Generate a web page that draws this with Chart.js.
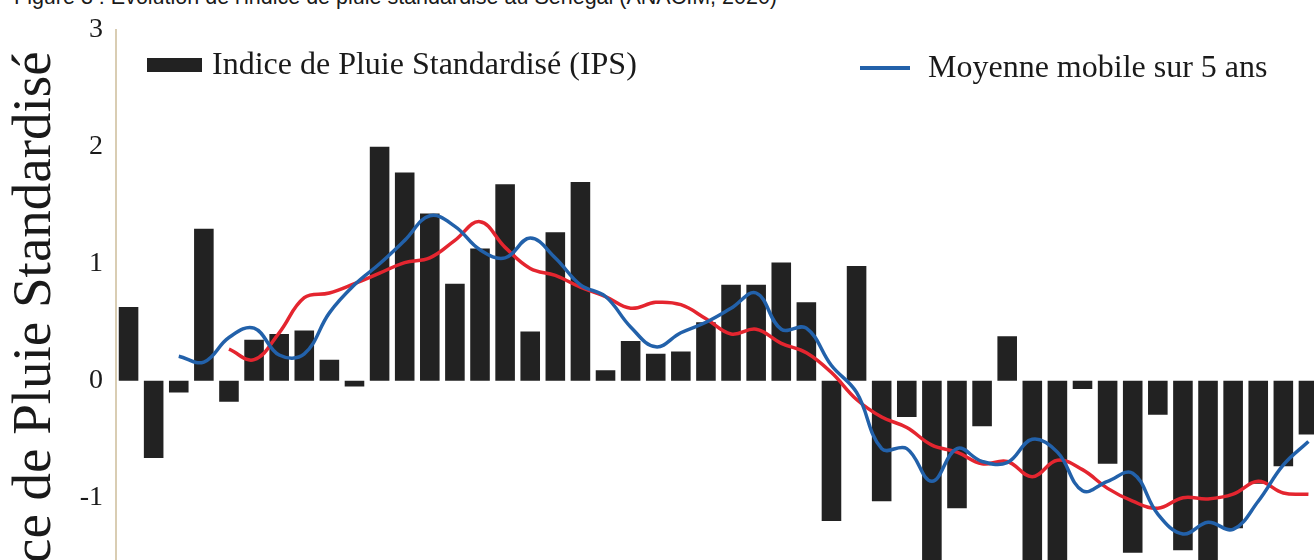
<!DOCTYPE html>
<html>
<head>
<meta charset="utf-8">
<script src="https://cdn.jsdelivr.net/npm/chart.js@4/dist/chart.umd.min.js"></script>
<style>
  html, body { margin: 0; padding: 0; background: #fff; overflow: hidden; width: 1314px; height: 560px; }
  #caption { position: absolute; left: 14px; top: -14px; font: 21.5px "Liberation Sans", Arial, sans-serif; line-height: 22px; color: #1a1a1a; white-space: nowrap; }
  #wrap { position: absolute; left: 0; top: 0; width: 1330px; height: 703px; }
</style>
</head>
<body>
<div id="caption">Figure 3 : Évolution de l'indice de pluie standardisé au Sénégal (ANACIM, 2020)</div>
<div id="wrap"><canvas id="c" width="1330" height="703"></canvas></div>
<script>
// Years of the series (one bar per year)
const categories = [
  "1", "2", "3", "4", "5", "6", "7", "8", "9", "10",
  "11", "12", "13", "14", "15", "16", "17", "18", "19", "20",
  "21", "22", "23", "24", "25", "26", "27", "28", "29", "30",
  "31", "32", "33", "34", "35", "36", "37", "38", "39", "40",
  "41", "42", "43", "44", "45", "46", "47", "48"
];

// Indice de Pluie Standardisé, one value per year
const ipsValues = [
  0.63, -0.66, -0.10, 1.30, -0.18, 0.35, 0.40, 0.43, 0.18, -0.05,
  2.00, 1.78, 1.43, 0.83, 1.13, 1.68, 0.42, 1.27, 1.70, 0.09,
  0.34, 0.23, 0.25, 0.50, 0.82, 0.82, 1.01, 0.67, -1.20, 0.98,
  -1.03, -0.31, -1.65, -1.09, -0.39, 0.38, -1.62, -1.70, -0.07, -0.71,
  -1.47, -0.29, -1.45, -1.60, -1.26, -0.88, -0.73, -0.46
];

// Moyenne mobile sur 5 ans (blue curve)
const movingAvg5 = [
  null, null, 0.21, 0.16, 0.37, 0.45, 0.22, 0.23, 0.58, 0.82,
  1.00, 1.20, 1.41, 1.32, 1.12, 1.05, 1.22, 1.05, 0.82, 0.72,
  0.46, 0.29, 0.41, 0.50, 0.62, 0.75, 0.44, 0.45, 0.13, -0.10,
  -0.58, -0.58, -0.86, -0.58, -0.69, -0.70, -0.50, -0.61, -0.94, -0.86,
  -0.79, -1.14, -1.31, -1.21, -1.27, -1.03, -0.72, -0.52
];

// Longer smoothing (red curve)
const movingAvgLong = [
  null, null, null, null, 0.27, 0.18, 0.41, 0.71, 0.75, 0.83,
  0.92, 1.01, 1.05, 1.20, 1.36, 1.14, 0.96, 0.90, 0.80, 0.72,
  0.62, 0.67, 0.65, 0.53, 0.40, 0.44, 0.32, 0.24, 0.07, -0.16,
  -0.31, -0.40, -0.55, -0.61, -0.71, -0.69, -0.82, -0.68, -0.76, -0.92,
  -1.03, -1.09, -1.00, -1.01, -0.97, -0.86, -0.96, -0.97
];

// Labels shown on the vertical axis
const yTickLabels = [3, 2, 1, 0, -1];

const serif = '"Liberation Serif", "Times New Roman", serif';
const textColor = '#1a1a1a';

// Legend drawn inside the plotting area, one entry per listed dataset
const insideLegend = {
  id: 'insideLegend',
  afterDatasetsDraw(chart, args, opts) {
    const ctx = chart.ctx;
    ctx.save();
    ctx.font = opts.font;
    ctx.textBaseline = 'middle';
    ctx.textAlign = 'left';
    opts.items.forEach(item => {
      const ds = chart.data.datasets[item.dataset];
      if (ds.type === 'line') {
        ctx.strokeStyle = ds.borderColor;
        ctx.lineWidth = 4;
        ctx.beginPath();
        ctx.moveTo(item.x, item.y);
        ctx.lineTo(item.x + item.swatch, item.y);
        ctx.stroke();
      } else {
        ctx.fillStyle = ds.backgroundColor;
        ctx.fillRect(item.x, item.y - 7, item.swatch, 14);
      }
      ctx.fillStyle = opts.color;
      ctx.fillText(ds.label, item.x + item.swatch + item.gap, item.y + 1);
    });
    ctx.restore();
  }
};

new Chart(document.getElementById('c'), {
  type: 'bar',
  data: {
    labels: categories,
    datasets: [
      {
        type: 'line',
        label: 'Moyenne mobile sur 5 ans',
        data: movingAvg5,
        borderColor: '#2261aa',
        borderWidth: 3.5,
        pointRadius: 0,
        tension: 0.4,
        fill: false,
        order: 0
      },
      {
        type: 'line',
        label: 'Moyenne mobile longue',
        data: movingAvgLong,
        borderColor: '#e4252f',
        borderWidth: 3.5,
        pointRadius: 0,
        tension: 0.4,
        fill: false,
        order: 1
      },
      {
        type: 'bar',
        label: 'Indice de Pluie Standardisé (IPS)',
        data: ipsValues,
        backgroundColor: '#222222',
        borderWidth: 0,
        barPercentage: 0.78,
        categoryPercentage: 1.0,
        order: 2
      }
    ]
  },
  options: {
    responsive: false,
    animation: false,
    layout: { padding: { top: 26, right: 9, bottom: 13, left: 0 } },
    plugins: {
      legend: { display: false },
      tooltip: { enabled: false },
      insideLegend: {
        font: '32px ' + serif,
        color: textColor,
        items: [
          { dataset: 2, x: 147, y: 65, swatch: 55, gap: 10 },
          { dataset: 0, x: 860, y: 68, swatch: 50, gap: 18 }
        ]
      }
    },
    scales: {
      x: {
        display: false,
        offset: true
      },
      y: {
        min: -2.5,
        max: 3,
        afterFit(scale) { scale.width = 116; },
        border: { display: true, color: '#d9cdb3', width: 2 },
        grid: { display: false, drawTicks: false },
        ticks: {
          stepSize: 1,
          padding: 13,
          color: textColor,
          font: { family: serif, size: 28 },
          callback: v => (yTickLabels.includes(v) ? String(v) : '')
        },
        title: {
          display: true,
          text: 'Indice de Pluie Standardisé',
          color: textColor,
          font: { family: serif, size: 55 },
          padding: { top: 3, bottom: 0 }
        }
      }
    }
  },
  plugins: [insideLegend]
});
</script>
</body>
</html>
